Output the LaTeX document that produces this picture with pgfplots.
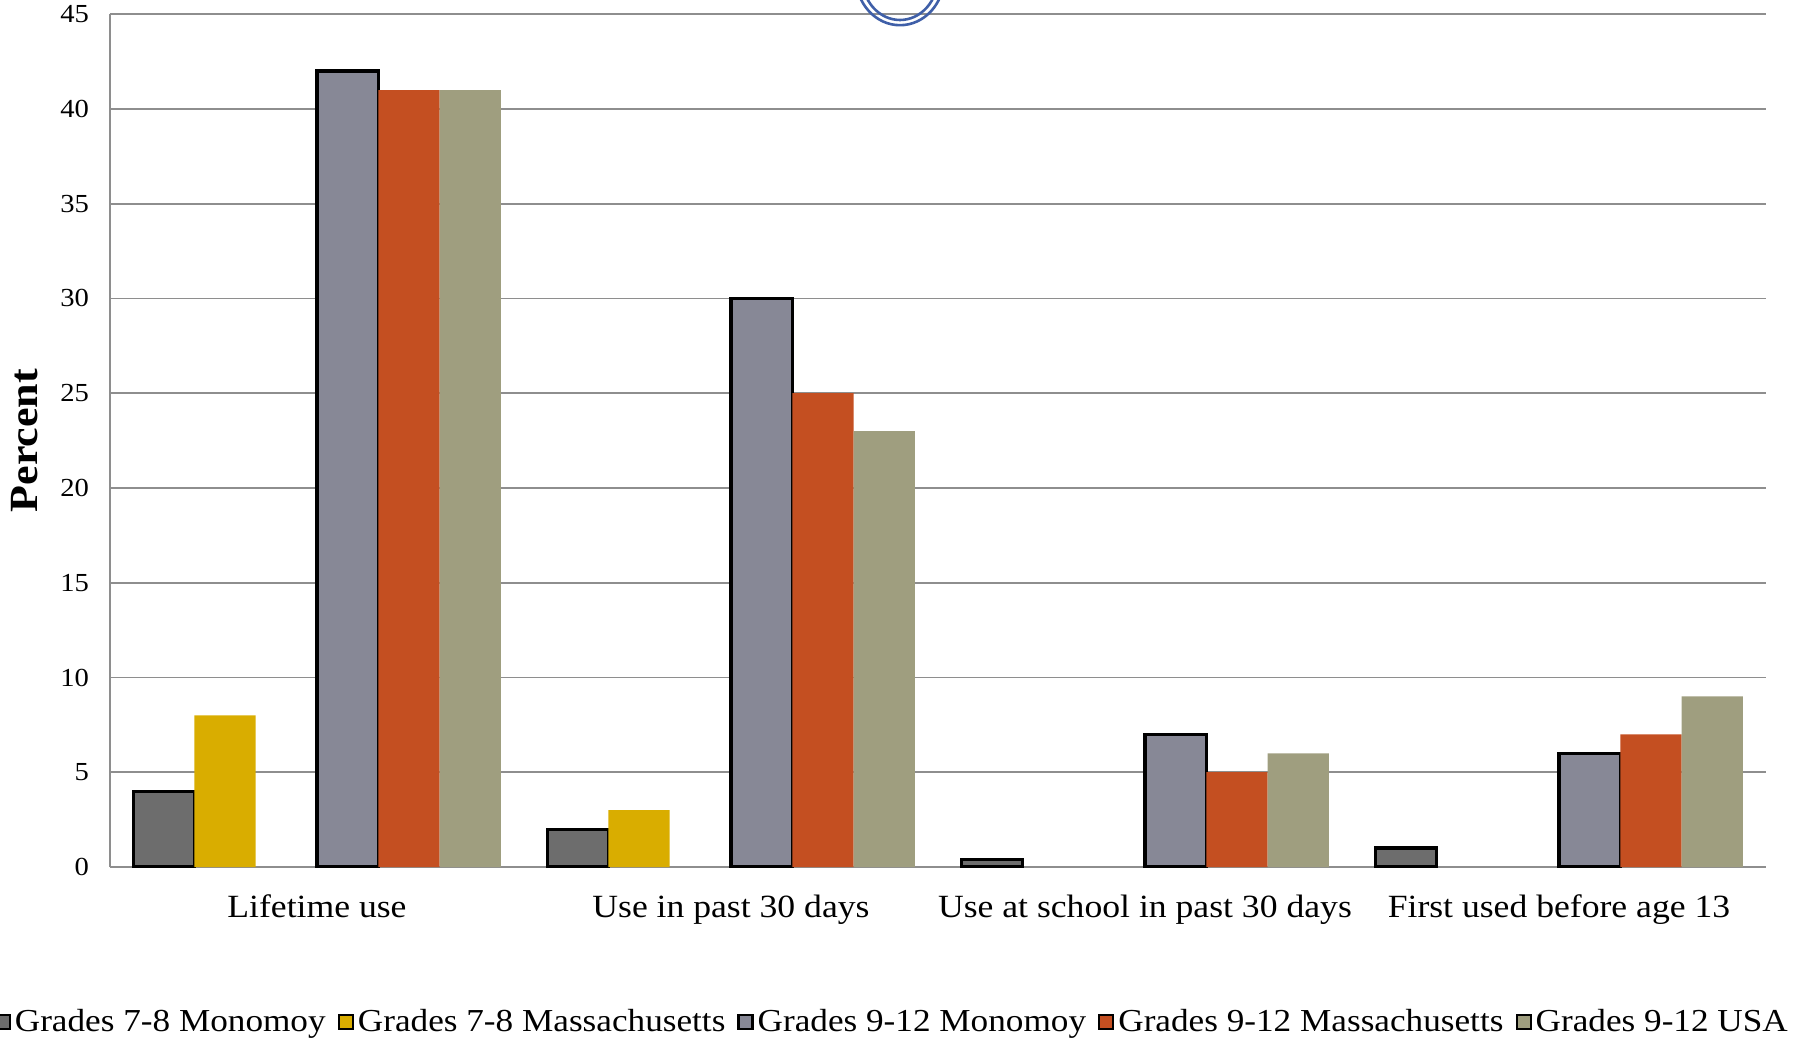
\documentclass[border=0pt]{standalone}
\usepackage{fontspec}
\setmainfont{Liberation Serif}[FakeStretch=1.1]
\usepackage{pgfplots}
\pgfplotsset{compat=1.18}
\usetikzlibrary{calc}

\definecolor{monA}{HTML}{6D6D6D}
\definecolor{maA}{HTML}{D9AD00}
\definecolor{monB}{HTML}{878896}
\definecolor{maB}{HTML}{C44F21}
\definecolor{usa}{HTML}{9F9E7F}
\definecolor{gridgray}{HTML}{8E8E8E}
\definecolor{ringblue}{HTML}{3F5FA8}

\begin{document}
\begin{tikzpicture}
\begin{axis}[
  name=ax, at={(0,0)}, anchor=south west,
  scale only axis, width=828pt, height=426.4pt,
  ybar, bar width=0.148,
  xmin=-0.5, xmax=3.5, ymin=0, ymax=45,
  ytick={0,5,...,45},
  xtick={0,1,2,3},
  xticklabels={Lifetime use, Use in past 30 days, Use at school in past 30 days, First used before age 13},
  major tick length=0pt,
  axis x line*=bottom, axis y line*=left,
  axis line style={gridgray, line width=0.8pt, -},
  ymajorgrids, grid style={gridgray, line width=0.8pt},
  /pgf/number format/assume math mode=true,
  yticklabel style={font=\fontsize{13}{15}\selectfont, anchor=east, xshift=-7pt},
  xticklabel style={font=\fontsize{16.2}{19}\selectfont, anchor=north, yshift=-10.5pt},
  every axis y label/.style={at={(axis description cs:-0.0513,0.5)}, rotate=90, anchor=center,
    font=\fontsize{20}{24}\selectfont\bfseries},
  ylabel={Percent},
  every axis plot/.append style={legend image code/.code={
    \draw[#1, line width=1.1pt] (0pt,-3.5pt) rectangle (7pt,3.5pt);}},
  legend style={draw=none, fill=none, font=\fontsize{16}{19}\selectfont,
    legend columns=-1, at={(0.473,-0.1817)}, anchor=center,
    /tikz/every even column/.append style={column sep=4pt}},
  legend cell align=left,
]
\addplot[fill=monA, draw=black, line width=1.6pt, bar shift=-0.370] coordinates {(0,4) (1,2) (2,0.4) (3,1)};
\addplot[fill=maA, draw=none, bar shift=-0.222] coordinates {(0,8) (1,3)};
\addplot[fill=monB, draw=black, line width=1.6pt, bar shift=0.074] coordinates {(0,42) (1,30) (2,7) (3,6)};
\addplot[fill=maB, draw=none, bar shift=0.222] coordinates {(0,41) (1,25) (2,5) (3,7)};
\addplot[fill=usa, draw=none, bar shift=0.370] coordinates {(0,41) (1,23) (2,6) (3,9)};
\legend{Grades 7-8 Monomoy, Grades 7-8 Massachusetts, Grades 9-12 Monomoy, Grades 9-12 Massachusetts, Grades 9-12 USA}
\end{axis}
% stamp at the top edge
\draw[ringblue, line width=1.3pt] ($(ax.south west)+(395pt,444.9pt)$) ellipse [x radius=22pt, y radius=24pt];
\draw[ringblue, line width=1.3pt] ($(ax.south west)+(395pt,444.9pt)$) ellipse [x radius=19pt, y radius=21.4pt];
\pgfresetboundingbox
\path[use as bounding box] ($(ax.south west)+(-55pt,-86.5pt)$) rectangle ($(ax.south west)+(851pt,433.5pt)$);
\end{tikzpicture}
\end{document}
